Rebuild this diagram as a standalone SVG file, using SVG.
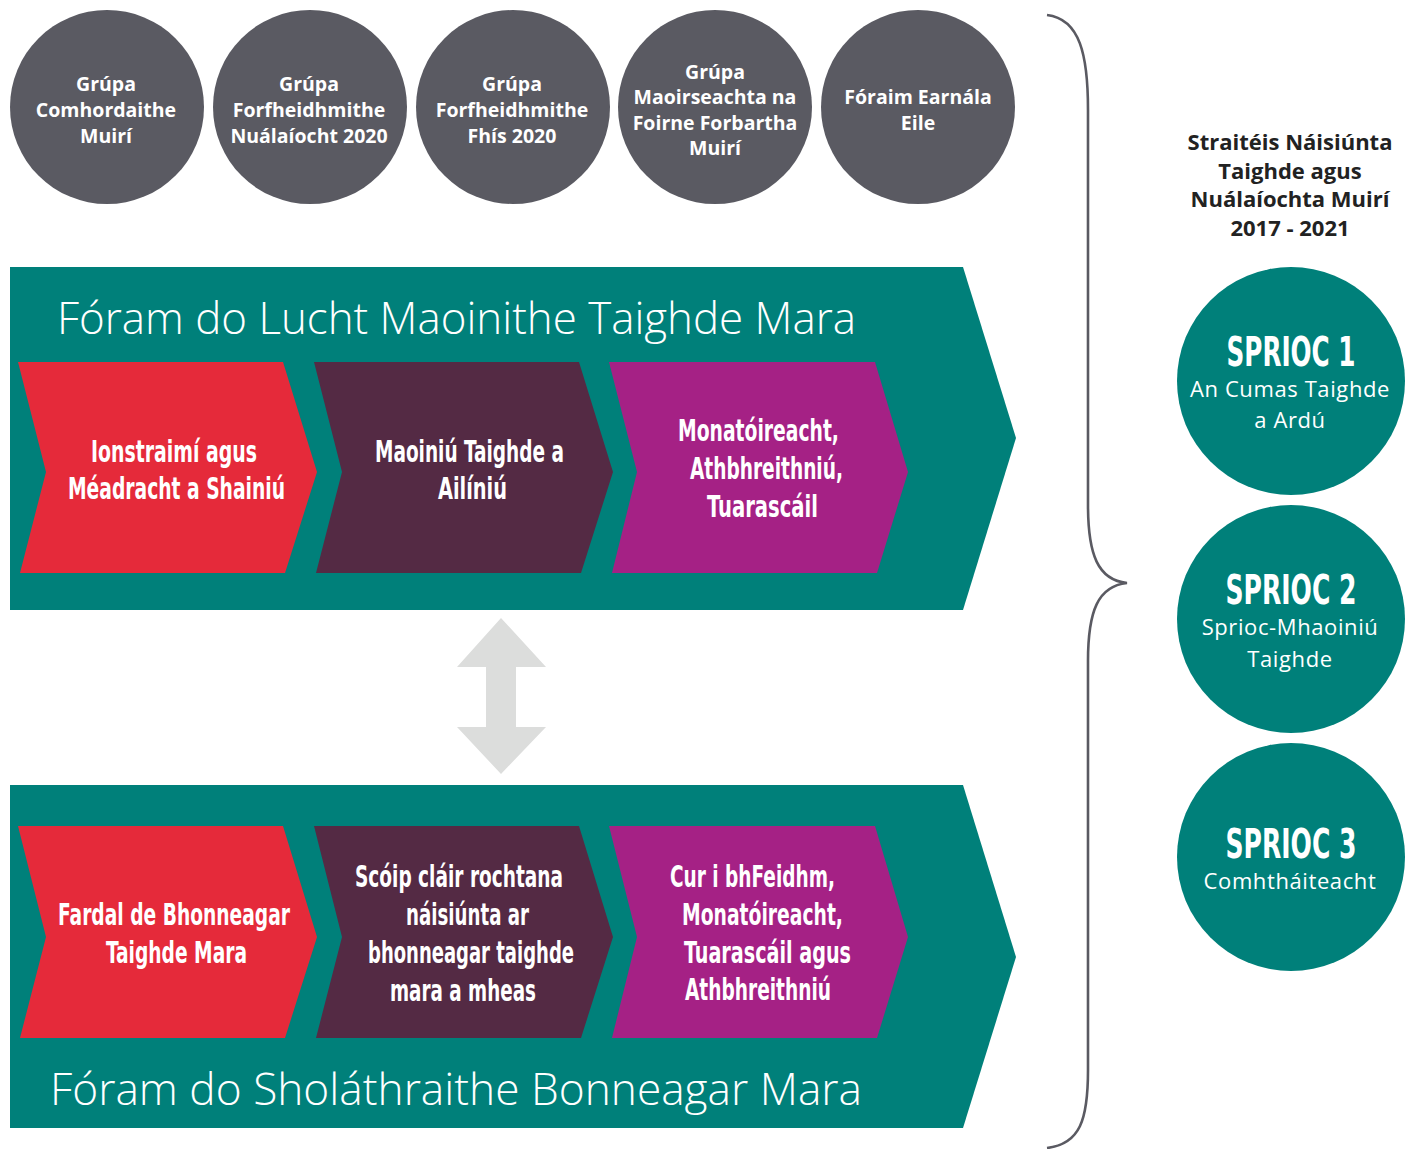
<svg xmlns="http://www.w3.org/2000/svg" width="1412" height="1149" viewBox="0 0 1412 1149">
<style>
.gc{fill:#5a5a62}
.gt{font-family:"Open Sans","Noto Sans",sans-serif;font-weight:700;font-size:19.5px;fill:#fff;text-anchor:middle}
.band{fill:#00807a}
.red{fill:#e52a3a}
.dp{fill:#542a44}
.mg{fill:#a52185}
.ct{font-family:"Liberation Sans Narrow","DejaVu Sans Condensed","Roboto",sans-serif;font-weight:700;font-size:30px;fill:#fff}
.title{font-family:"Open Sans","Lato","Noto Sans",sans-serif;font-weight:300;font-size:44px;fill:#fff}
.sc{fill:#00807a}
.sh{font-family:"Liberation Sans Narrow","DejaVu Sans Condensed","Roboto",sans-serif;font-weight:700;font-size:40px;fill:#fff;text-anchor:middle}
.ss{font-family:"Open Sans","Noto Sans",sans-serif;font-size:22px;fill:#fff;text-anchor:middle;letter-spacing:0.6px}
.rt{font-family:"Open Sans","Noto Sans",sans-serif;font-weight:700;font-size:22px;fill:#222;text-anchor:middle}
</style>

<g id="circle-1"><circle class="gc" cx="107" cy="107" r="97"/>
<text class="gt" x="106" y="91">Grúpa</text><text class="gt" x="106" y="117">Comhordaithe</text><text class="gt" x="106" y="143">Muirí</text></g>
<g id="circle-2"><circle class="gc" cx="310" cy="107" r="97"/>
<text class="gt" x="309" y="91">Grúpa</text><text class="gt" x="309" y="117">Forfheidhmithe</text><text class="gt" x="309" y="143">Nuálaíocht 2020</text></g>
<g id="circle-3"><circle class="gc" cx="513" cy="107" r="97"/>
<text class="gt" x="512" y="91">Grúpa</text><text class="gt" x="512" y="117">Forfheidhmithe</text><text class="gt" x="512" y="143">Fhís 2020</text></g>
<g id="circle-4"><circle class="gc" cx="715" cy="107" r="97"/>
<text class="gt" x="715" y="79">Grúpa</text><text class="gt" x="715" y="104">Maoirseachta na</text><text class="gt" x="715" y="130">Foirne Forbartha</text><text class="gt" x="715" y="155">Muirí</text></g>
<g id="circle-5"><circle class="gc" cx="918" cy="107" r="97"/>
<text class="gt" x="918" y="104">Fóraim Earnála</text><text class="gt" x="918" y="130">Eile</text></g>

<g id="band-top">
<polygon class="band" points="10,267 963,267 1016,438 963,610 10,610"/>
<text class="title" x="57" y="334" textLength="799" lengthAdjust="spacingAndGlyphs">Fóram do Lucht Maoinithe Taighde Mara</text>
</g>
<g id="chev-top-1"><polygon class="red" points="18,362 283,362 317,472 285,573 20,573 46,472"/>
<text class="ct" x="91" y="462" textLength="166" lengthAdjust="spacingAndGlyphs">Ionstraimí agus</text>
<text class="ct" x="68" y="499" textLength="217" lengthAdjust="spacingAndGlyphs">Méadracht a Shainiú</text></g>
<g id="chev-top-2"><polygon class="dp" points="314,362 579,362 613,472 581,573 316,573 342,472"/>
<text class="ct" x="375" y="462" textLength="189" lengthAdjust="spacingAndGlyphs">Maoiniú Taighde a</text>
<text class="ct" x="438" y="499" textLength="69" lengthAdjust="spacingAndGlyphs">Ailíniú</text></g>
<g id="chev-top-3"><polygon class="mg" points="609,362 875,362 908,472 877,573 612,573 637,472"/>
<text class="ct" x="678" y="441" textLength="161" lengthAdjust="spacingAndGlyphs">Monatóireacht,</text>
<text class="ct" x="690" y="479" textLength="153" lengthAdjust="spacingAndGlyphs">Athbhreithniú,</text>
<text class="ct" x="707" y="517" textLength="111" lengthAdjust="spacingAndGlyphs">Tuarascáil</text></g>

<g id="connectors">
<polygon fill="#dcdddc" points="501,618 546,667 516,667 516,727 546,727 501,774 457,727 486,727 486,667 457,667"/>
<path d="M1047,15 C1080,19 1088,55 1088,110 L1088,505 C1088,555 1098,580 1127,583 C1098,586 1088,611 1088,661 L1088,1070 C1088,1120 1080,1144 1047,1148" fill="none" stroke="#5a5a62" stroke-width="2.6"/>
</g>

<g id="band-bottom">
<polygon class="band" points="10,785 963,785 1016,957 963,1128 10,1128"/>
<text class="title" x="50" y="1105" textLength="812" lengthAdjust="spacingAndGlyphs">Fóram do Sholáthraithe Bonneagar Mara</text>
</g>
<g id="chev-bot-1"><polygon class="red" points="18,826 283,826 317,937 285,1038 20,1038 46,937"/>
<text class="ct" x="58" y="925" textLength="232" lengthAdjust="spacingAndGlyphs">Fardal de Bhonneagar</text>
<text class="ct" x="106" y="963" textLength="141" lengthAdjust="spacingAndGlyphs">Taighde Mara</text></g>
<g id="chev-bot-2"><polygon class="dp" points="314,826 579,826 613,937 581,1038 316,1038 342,937"/>
<text class="ct" x="355" y="887" textLength="208" lengthAdjust="spacingAndGlyphs">Scóip cláir rochtana</text>
<text class="ct" x="406" y="925" textLength="123" lengthAdjust="spacingAndGlyphs">náisiúnta ar</text>
<text class="ct" x="368" y="963" textLength="206" lengthAdjust="spacingAndGlyphs">bhonneagar taighde</text>
<text class="ct" x="390" y="1001" textLength="146" lengthAdjust="spacingAndGlyphs">mara a mheas</text></g>
<g id="chev-bot-3"><polygon class="mg" points="609,826 875,826 908,937 877,1038 612,1038 637,937"/>
<text class="ct" x="670" y="887" textLength="165" lengthAdjust="spacingAndGlyphs">Cur i bhFeidhm,</text>
<text class="ct" x="682" y="925" textLength="161" lengthAdjust="spacingAndGlyphs">Monatóireacht,</text>
<text class="ct" x="684" y="963" textLength="167" lengthAdjust="spacingAndGlyphs">Tuarascáil agus</text>
<text class="ct" x="685" y="1000" textLength="146" lengthAdjust="spacingAndGlyphs">Athbhreithniú</text></g>

<g id="strategy-title">
<text class="rt" x="1290" y="150">Straitéis Náisiúnta</text>
<text class="rt" x="1290" y="179">Taighde agus</text>
<text class="rt" x="1290" y="207">Nuálaíochta Muirí</text>
<text class="rt" x="1290" y="236">2017 - 2021</text>
</g>
<g id="sprioc-1"><circle class="sc" cx="1291" cy="381" r="114"/>
<text class="sh" x="1291" y="366" textLength="129" lengthAdjust="spacingAndGlyphs">SPRIOC 1</text>
<text class="ss" x="1290" y="397">An Cumas Taighde</text>
<text class="ss" x="1290" y="428">a Ardú</text></g>
<g id="sprioc-2"><circle class="sc" cx="1291" cy="619" r="114"/>
<text class="sh" x="1291" y="604" textLength="131" lengthAdjust="spacingAndGlyphs">SPRIOC 2</text>
<text class="ss" x="1290" y="635">Sprioc-Mhaoiniú</text>
<text class="ss" x="1290" y="667">Taighde</text></g>
<g id="sprioc-3"><circle class="sc" cx="1291" cy="857" r="114"/>
<text class="sh" x="1291" y="858" textLength="131" lengthAdjust="spacingAndGlyphs">SPRIOC 3</text>
<text class="ss" x="1290" y="889">Comhtháiteacht</text></g>
</svg>
